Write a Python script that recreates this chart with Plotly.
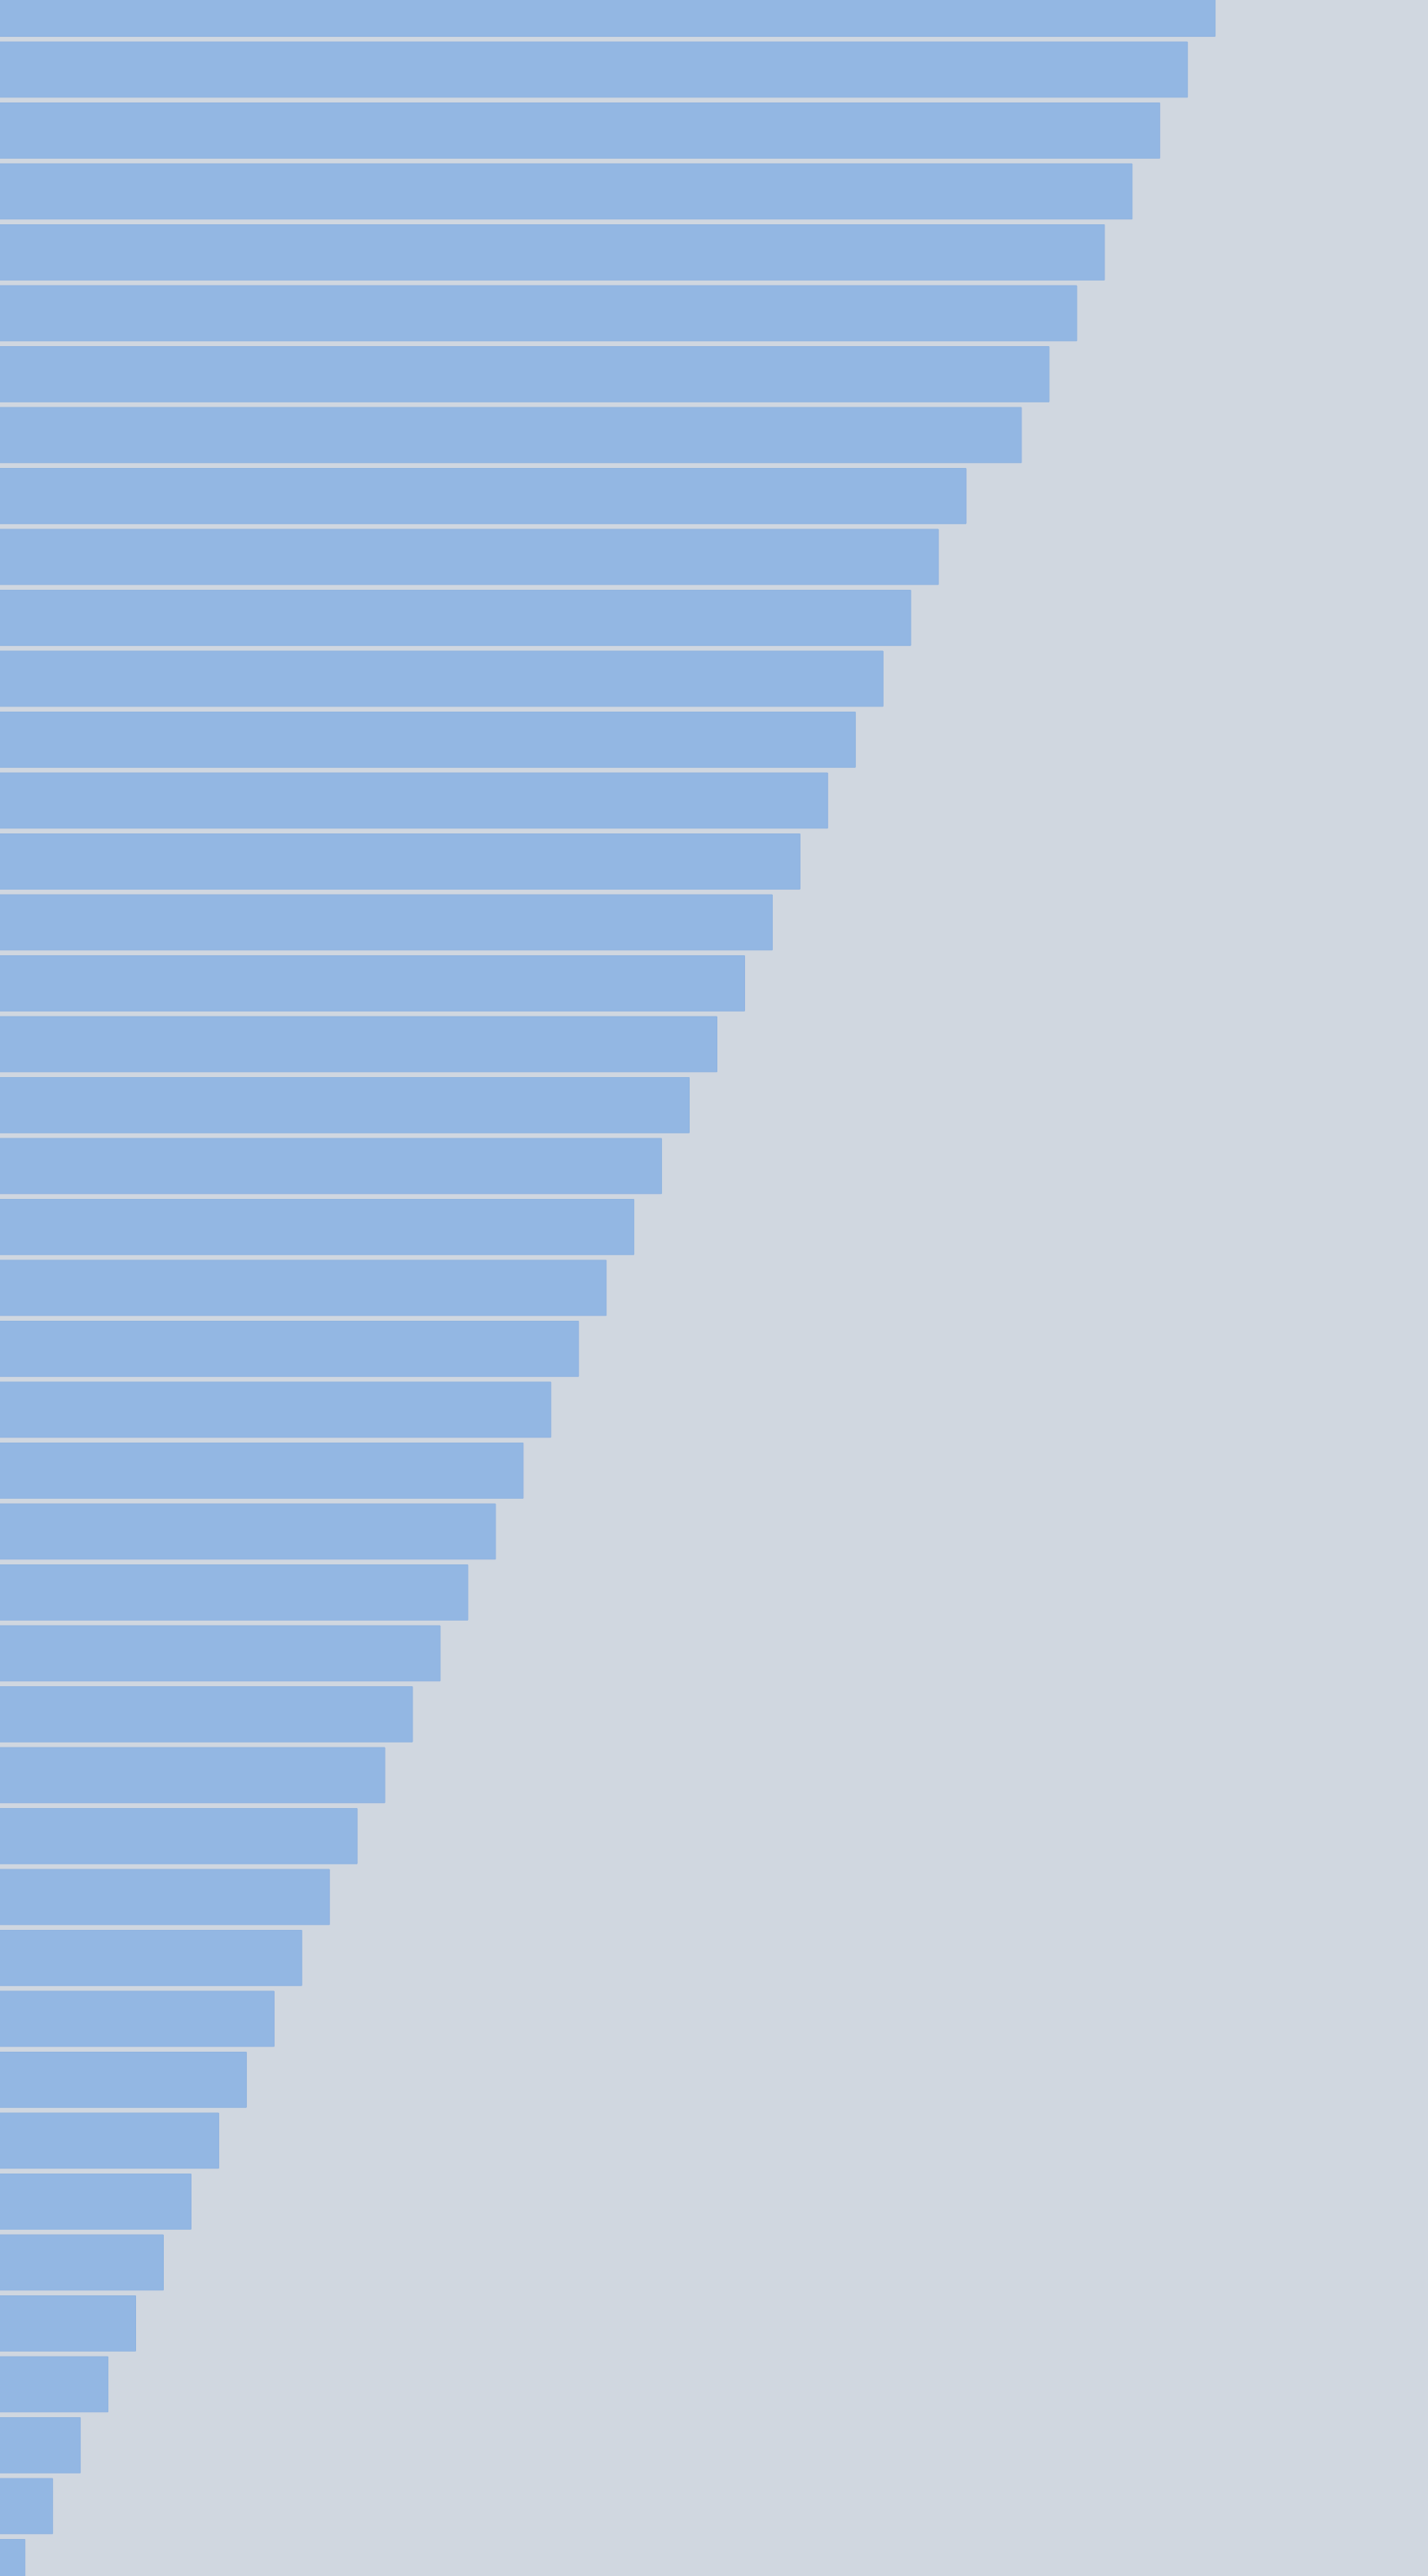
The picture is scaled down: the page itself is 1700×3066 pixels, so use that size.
import plotly.graph_objects as go

# bar values, top to bottom (one step missing between 37 and 35)
values = [44, 43, 42, 41, 40, 39, 38, 37,
          35, 34, 33, 32, 31, 30, 29, 28, 27, 26, 25, 24, 23, 22, 21, 20,
          19, 18, 17, 16, 15, 14, 13, 12, 11, 10, 9, 8, 7, 6, 5, 4, 3, 2, 1]
rows = list(range(len(values)))

fig = go.Figure(go.Bar(
    x=values,
    y=rows,
    orientation="h",
    marker=dict(color="#93b7e3", line=dict(color="#8fb3e0", width=1)),
    hoverinfo="skip",
))

fig.update_layout(
    width=1700,
    height=3066,
    margin=dict(l=0, r=0, t=0, b=0),
    paper_bgcolor="#d0d7e0",
    plot_bgcolor="#d0d7e0",
    bargap=0.093,
    showlegend=False,
)
fig.update_xaxes(range=[0.0986, 51.69], visible=False, showgrid=False, zeroline=False)
fig.update_yaxes(range=[42.147, -0.143], visible=False, showgrid=False, zeroline=False)

fig.write_html("out.html", config={"displayModeBar": False},
               post_script="document.body.style.margin='0';")
